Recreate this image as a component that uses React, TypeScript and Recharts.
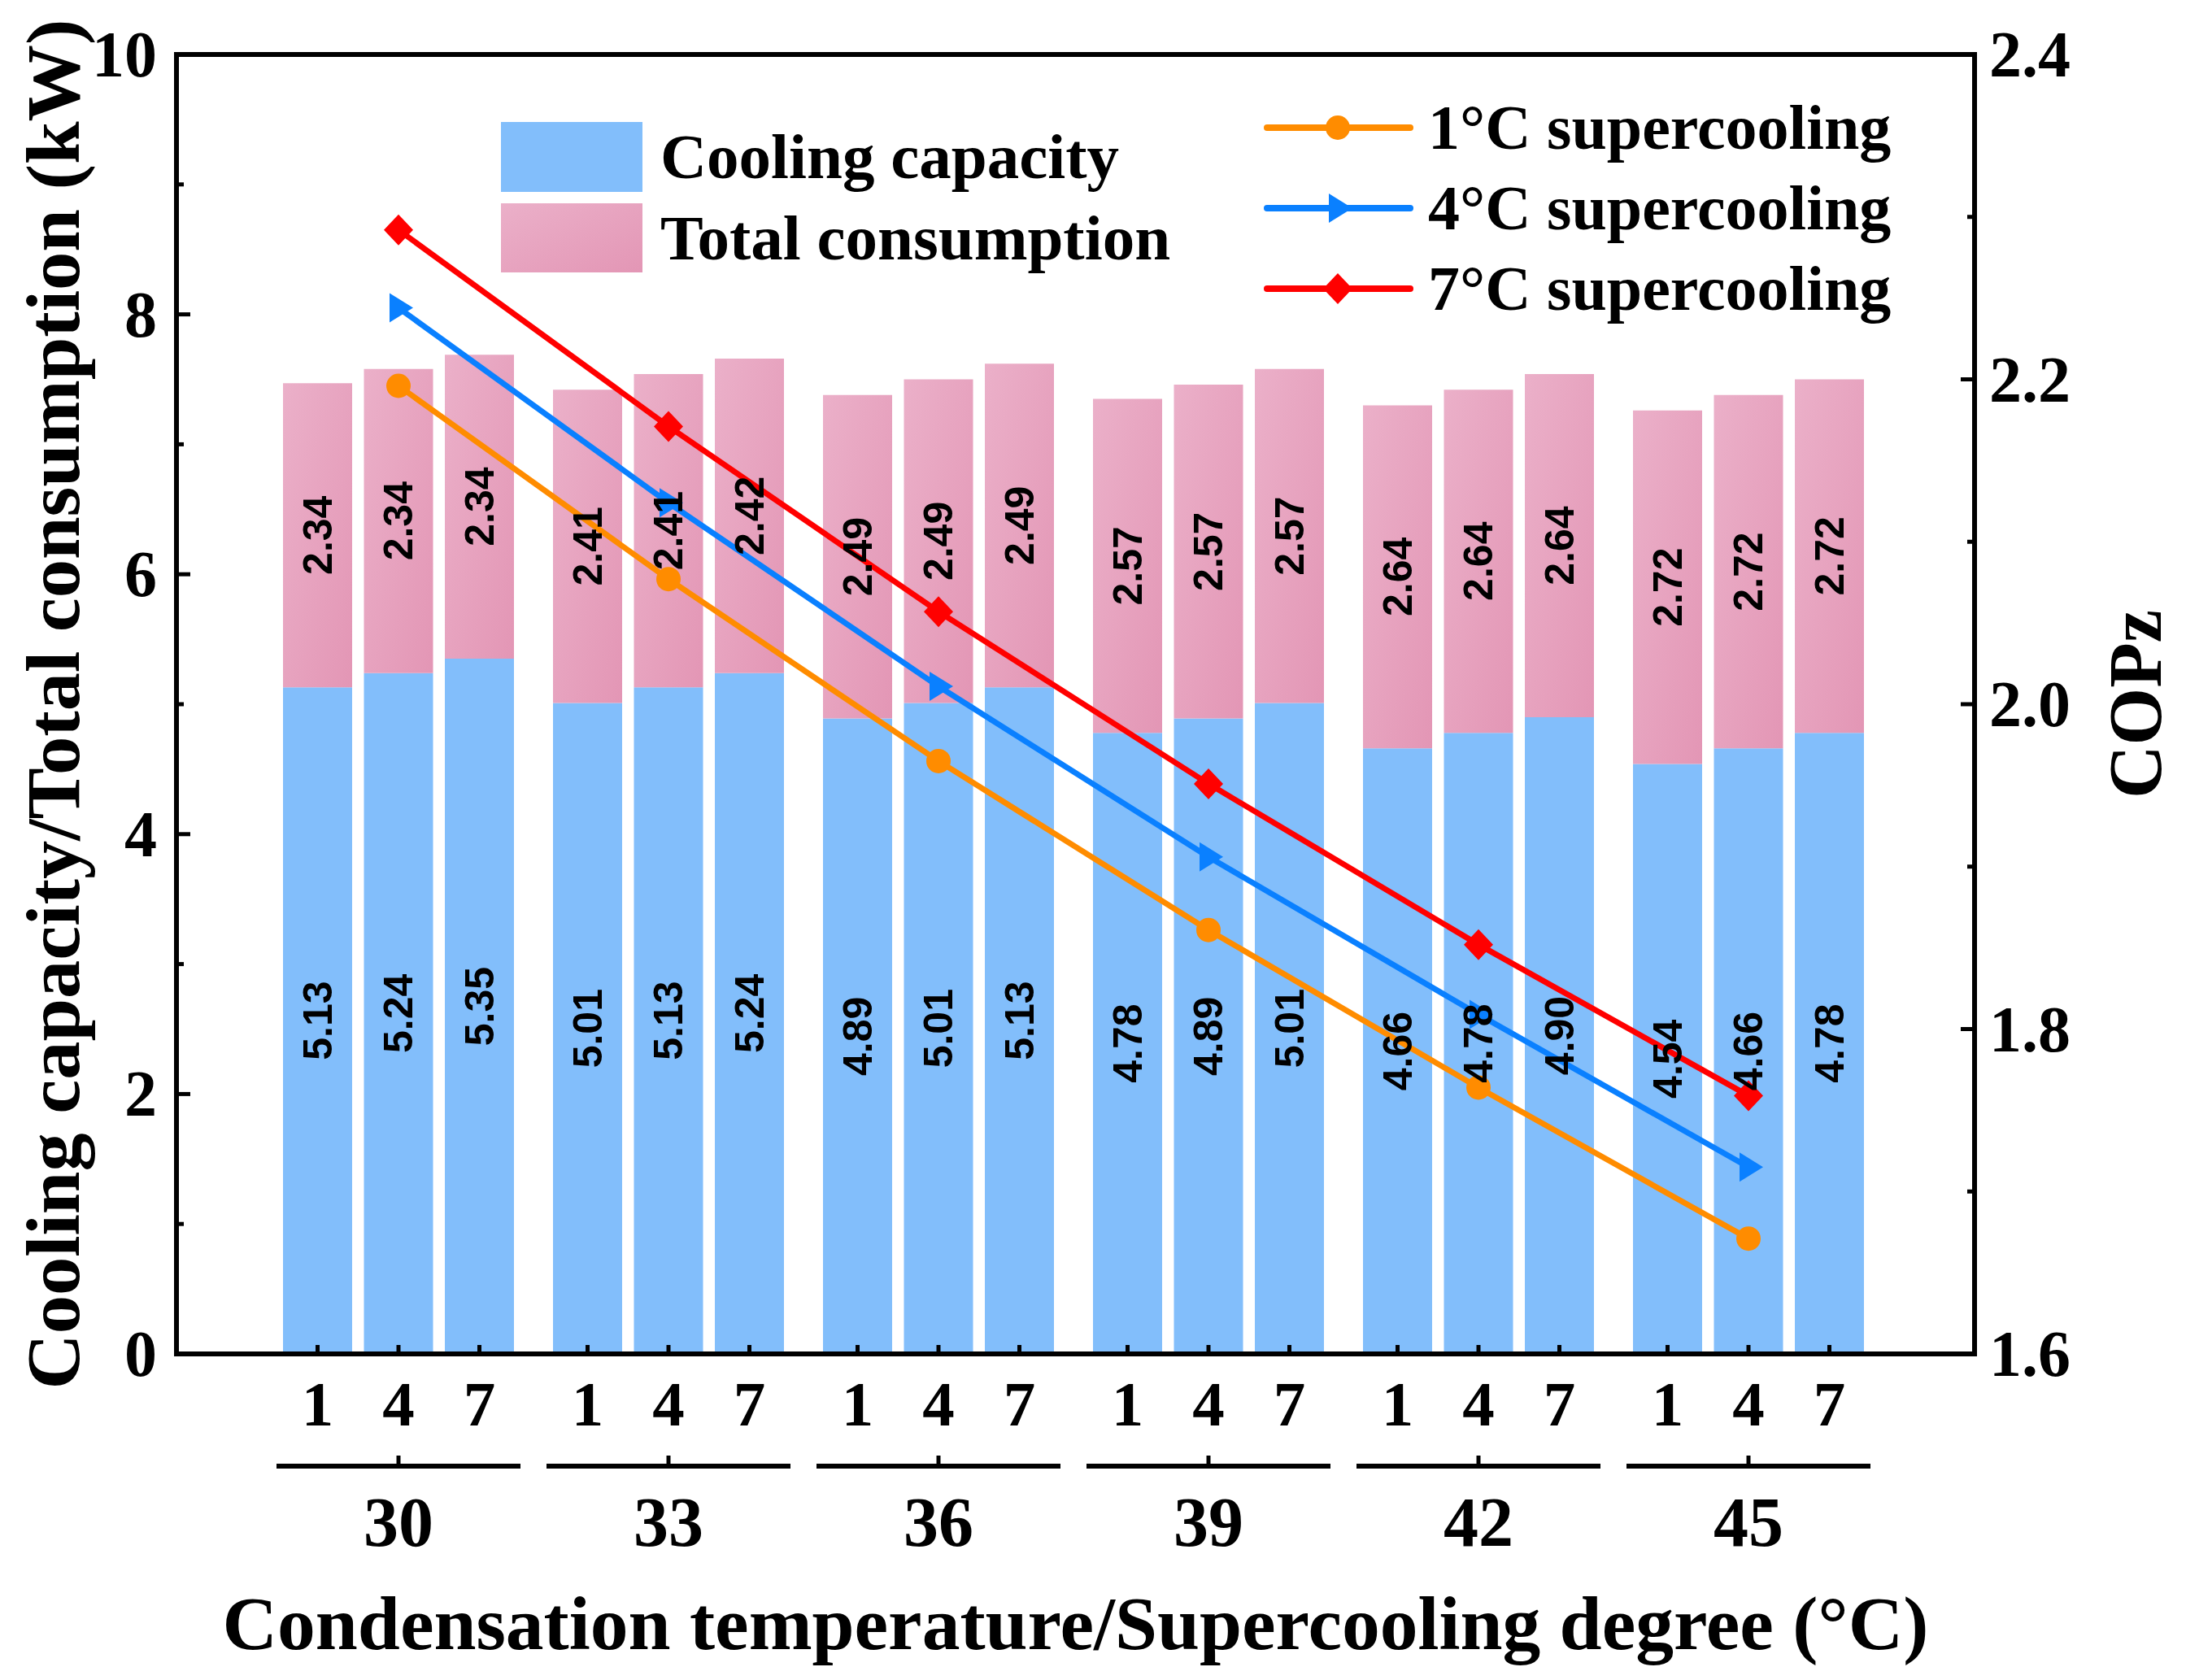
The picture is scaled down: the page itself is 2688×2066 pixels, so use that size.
import { Bar, ComposedChart, LabelList, Legend, Line, XAxis, YAxis } from 'recharts';

// Stacked cooling capacity / total consumption per condensation temperature,
// with COPz lines (one per supercooling degree) on the right axis.

const SERIF = '"Liberation Serif", "Times New Roman", serif';
const SANS = '"Liberation Sans", Arial, sans-serif';

const groups = ['30', '33', '36', '39', '42', '45'];
const subLabels = ['1', '4', '7'];

const capacity1 = [5.13, 5.01, 4.89, 4.78, 4.66, 4.54];
const capacity4 = [5.24, 5.13, 5.01, 4.89, 4.78, 4.66];
const capacity7 = [5.35, 5.24, 5.13, 5.01, 4.9, 4.78];
const consumption1 = [2.34, 2.41, 2.49, 2.57, 2.64, 2.72];
const consumption4 = [2.34, 2.41, 2.49, 2.57, 2.64, 2.72];
const consumption7 = [2.34, 2.42, 2.49, 2.57, 2.64, 2.72];

const cop1 = [2.196, 2.077, 1.965, 1.861, 1.764, 1.671];
const cop4 = [2.244, 2.124, 2.011, 1.906, 1.809, 1.715];
const cop7 = [2.292, 2.171, 2.057, 1.951, 1.852, 1.759];

const leftTicks = [0, 1, 2, 3, 4, 5, 6, 7, 8, 9, 10];
const rightTicks = [1.6, 1.7, 1.8, 1.9, 2.0, 2.1, 2.2, 2.3, 2.4];

const lineSeries = [
  { key: 'cop1', name: '1°C supercooling', color: '#FF8C00', marker: 'circle' },
  { key: 'cop4', name: '4°C supercooling', color: '#0A80FF', marker: 'triangle' },
  { key: 'cop7', name: '7°C supercooling', color: '#FF0000', marker: 'diamond' },
];

const rows = groups.map((g, i) => ({
  group: g,
  cap0: capacity1[i], con0: consumption1[i],
  cap1: capacity4[i], con1: consumption4[i],
  cap2: capacity7[i], con2: consumption7[i],
  cop1: cop1[i], cop4: cop4[i], cop7: cop7[i],
}));

const CAP_COLOR = '#82BEFB';

function Marker({ cx, cy, kind, color }: { cx: number; cy: number; kind: string; color: string }) {
  if (cx == null || cy == null) return null;
  if (kind === 'triangle') {
    return <polygon points={`${cx - 11},${cy - 18} ${cx + 18},${cy} ${cx - 11},${cy + 18}`} fill={color} />;
  }
  if (kind === 'diamond') {
    return <polygon points={`${cx},${cy - 19} ${cx + 18},${cy} ${cx},${cy + 19} ${cx - 18},${cy}`} fill={color} />;
  }
  return <circle cx={cx} cy={cy} r={15} fill={color} />;
}

function box(p: any) {
  const vb = p.viewBox && p.viewBox.width != null ? p.viewBox : p;
  return { x: Number(vb.x), y: Number(vb.y), width: Number(vb.width), height: Number(vb.height) };
}

function ValueLabel(p: any) {
  const { x, y, width, height } = box(p);
  const cx = x + width / 2;
  const cy = y + height / 2;
  return (
    <text transform={`translate(${cx},${cy}) rotate(-90)`} textAnchor="middle" dominantBaseline="central"
      fontFamily={SANS} fontWeight={700} fontSize={50} fill="#000">
      {Number(p.value).toFixed(2)}
    </text>
  );
}

function subTick(label: string) {
  return (p: any) => {
    const { x, y, width, height } = box(p);
    const cx = x + width / 2;
    const bottom = y + height;
    return (
      <g>
        <line x1={cx} x2={cx} y1={bottom} y2={bottom - 11} stroke="#000" strokeWidth={5} />
        <text x={cx} y={bottom + 88} textAnchor="middle" fontFamily={SERIF} fontWeight={700} fontSize={79} fill="#000">
          {label}
        </text>
      </g>
    );
  };
}

function GroupTick({ x, y, payload }: any) {
  return (
    <g>
      <line x1={x - 150} x2={x + 150} y1={y + 138} y2={y + 138} stroke="#000" strokeWidth={6} />
      <line x1={x} x2={x} y1={y + 138} y2={y + 125} stroke="#000" strokeWidth={5} />
      <text x={x} y={y + 236} textAnchor="middle" fontFamily={SERIF} fontWeight={700} fontSize={86} fill="#000">
        {payload.value}
      </text>
    </g>
  );
}

function LeftTick({ x, y, payload }: any) {
  const major = payload.value % 2 === 0;
  return (
    <g>
      <line x1={x} x2={x + (major ? 17 : 9)} y1={y} y2={y} stroke="#000" strokeWidth={5} />
      {major && (
        <text x={x - 24} y={y + 27} textAnchor="end" fontFamily={SERIF} fontWeight={700} fontSize={80} fill="#000">
          {payload.value}
        </text>
      )}
    </g>
  );
}

function RightTick({ x, y, payload }: any) {
  const major = Math.round(payload.value * 10) % 2 === 0;
  return (
    <g>
      <line x1={x} x2={x - (major ? 17 : 9)} y1={y} y2={y} stroke="#000" strokeWidth={5} />
      {major && (
        <text x={x + 18} y={y + 27} textAnchor="start" fontFamily={SERIF} fontWeight={700} fontSize={80} fill="#000">
          {Number(payload.value).toFixed(1)}
        </text>
      )}
    </g>
  );
}

const titleStyle = { fontFamily: SERIF, fontWeight: 700, fontSize: 94, fill: '#000' };

function LeftTitle(p: any) {
  const vb = p.viewBox || { x: 0, y: 67, width: 217, height: 1598 };
  return (
    <text transform={`translate(${vb.x + 97},${vb.y + vb.height / 2}) rotate(-90)`} textAnchor="middle"
      textLength={1685} lengthAdjust="spacingAndGlyphs" style={titleStyle}>
      Cooling capacity/Total consumption (kW)
    </text>
  );
}

function RightTitle(p: any) {
  const vb = p.viewBox || { x: 2428, y: 67, width: 260, height: 1598 };
  return (
    <text transform={`translate(${vb.x + 229},${vb.y + vb.height / 2}) rotate(-90)`} textAnchor="middle"
      textLength={232} lengthAdjust="spacingAndGlyphs" style={titleStyle}>
      COPz
    </text>
  );
}

function BottomTitle(p: any) {
  const vb = p.viewBox || { x: 217, y: 1665, width: 2211, height: 401 };
  return (
    <text x={vb.x + vb.width / 2} y={vb.y + 363} textAnchor="middle"
      textLength={2098} lengthAdjust="spacingAndGlyphs" style={titleStyle}>
      Condensation temperature/Supercooling degree (°C)
    </text>
  );
}

function LegendBlock() {
  const text = { fontFamily: SERIF, fontWeight: 700, fontSize: 79, fill: '#000' };
  return (
    <svg width={2688} height={420} style={{ display: 'block' }}>
      <defs>
        <linearGradient id="legConFill" x1="0" y1="0" x2="1" y2="1">
          <stop offset="0%" stopColor="#EBB0C9" />
          <stop offset="100%" stopColor="#E396B5" />
        </linearGradient>
      </defs>
      <rect x={616} y={150} width={174} height={86} fill={CAP_COLOR} />
      <text x={812} y={219} {...text}>Cooling capacity</text>
      <rect x={616} y={250} width={174} height={85} fill="url(#legConFill)" />
      <text x={812} y={319} {...text}>Total consumption</text>
      {lineSeries.map((s, i) => {
        const cy = 157 + i * 99;
        return (
          <g key={s.key}>
            <line x1={1558} x2={1734} y1={cy} y2={cy} stroke={s.color} strokeWidth={8} strokeLinecap="round" />
            <Marker cx={1645} cy={cy} kind={s.marker} color={s.color} />
            <text x={1756} y={cy + 26} {...text} fontSize={78}>{s.name}</text>
          </g>
        );
      })}
    </svg>
  );
}

export default function App() {
  const axisLine = { stroke: '#000', strokeWidth: 6, strokeLinecap: 'square' as const };
  return (
    <div style={{ position: 'absolute', left: 0, top: 0, width: 2688, height: 2066, background: '#fff' }}>
      <ComposedChart width={2688} height={2066} data={rows} margin={{ top: 37, right: 0, bottom: 0, left: 0 }}
        barSize={85} barGap={14.5}>
        <defs>
          <linearGradient id="conFill" x1="0" y1="0" x2="1" y2="1">
            <stop offset="0%" stopColor="#EBB0C9" />
            <stop offset="100%" stopColor="#E396B5" />
          </linearGradient>
        </defs>
        <XAxis dataKey="group" type="category" height={401} padding={{ left: 107, right: 112 }}
          interval={0} tickSize={0} tickMargin={0} tickLine={false} axisLine={axisLine}
          tick={<GroupTick />} label={{ content: BottomTitle }} />
        <XAxis xAxisId="top" dataKey="group" orientation="top" height={30} tick={false} tickLine={false}
          axisLine={axisLine} />
        <YAxis yAxisId="left" domain={[0, 10]} ticks={leftTicks} width={217} interval={0} tickSize={0}
          tickMargin={0} tickLine={false} axisLine={axisLine} tick={<LeftTick />} label={{ content: LeftTitle }}
          allowDataOverflow />
        <YAxis yAxisId="right" orientation="right" domain={[1.6, 2.4]} ticks={rightTicks} width={260}
          interval={0} tickSize={0} tickMargin={0} tickLine={false} axisLine={axisLine} tick={<RightTick />}
          label={{ content: RightTitle }} allowDataOverflow />
        {subLabels.map((sub, s) => [
          <Bar key={`cap${s}`} yAxisId="left" dataKey={`cap${s}`} stackId={`stack${s}`} fill={CAP_COLOR}
            name="Cooling capacity" isAnimationActive={false}>
            <LabelList dataKey={`cap${s}`} content={ValueLabel} />
            <LabelList dataKey={`cap${s}`} content={subTick(sub)} />
          </Bar>,
          <Bar key={`con${s}`} yAxisId="left" dataKey={`con${s}`} stackId={`stack${s}`} fill="url(#conFill)"
            name="Total consumption" isAnimationActive={false}>
            <LabelList dataKey={`con${s}`} content={ValueLabel} />
          </Bar>,
        ])}
        {lineSeries.map((s) => (
          <Line key={s.key} yAxisId="right" dataKey={s.key} name={s.name} stroke={s.color} strokeWidth={7}
            isAnimationActive={false} activeDot={false}
            dot={(p: any) => <Marker key={`${s.key}-${p.index}`} cx={p.cx} cy={p.cy} kind={s.marker} color={s.color} />} />
        ))}
        <Legend layout="horizontal" verticalAlign="middle" align="center" content={LegendBlock}
          wrapperStyle={{ top: 0, left: 0, width: 2688, height: 420, pointerEvents: 'none' }} />
      </ComposedChart>
    </div>
  );
}
